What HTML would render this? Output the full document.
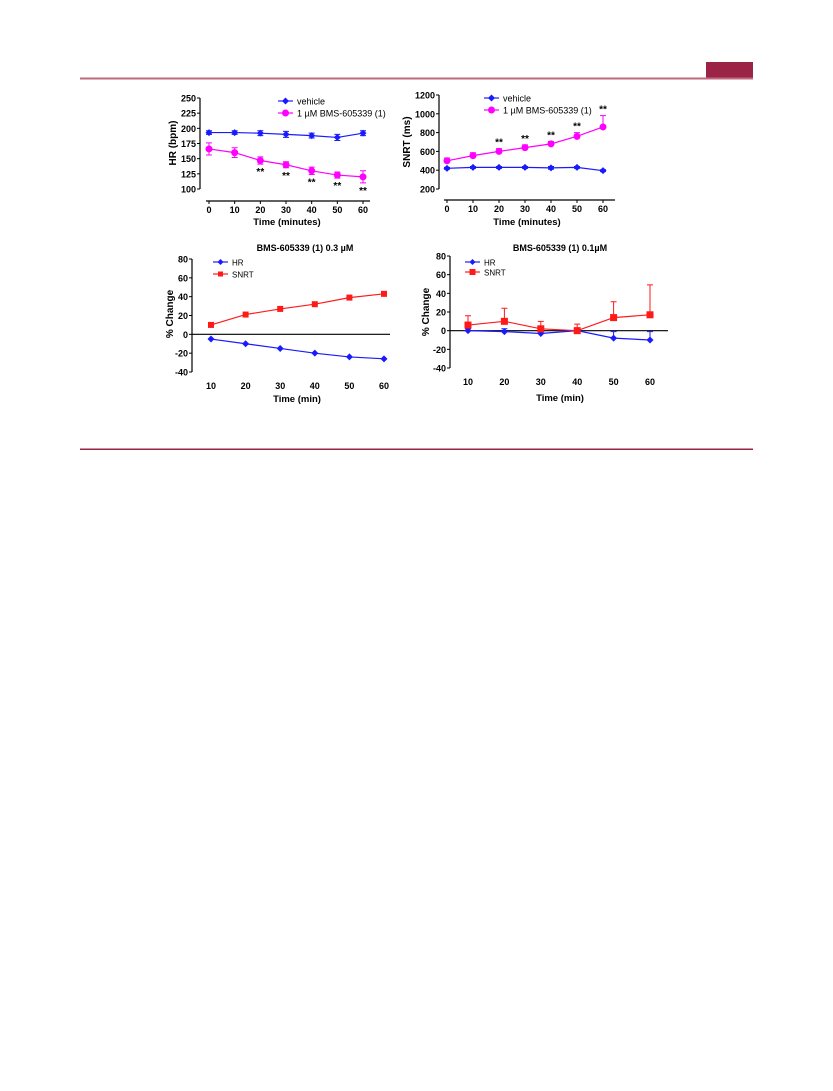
<!DOCTYPE html>
<html><head><meta charset="utf-8"><style>
body{margin:0;background:#fff;width:833px;height:1091px;overflow:hidden}
svg{position:absolute;left:0;top:0;font-family:"Liberation Sans",sans-serif}
</style></head><body>
<svg id="s" width="833" height="1091" xmlns="http://www.w3.org/2000/svg">
<rect x="706" y="62" width="47" height="16" fill="#9b2346"/>
<rect x="80" y="77.5" width="673" height="2" fill="#c06a7e"/>
<rect x="80" y="448.5" width="673" height="1.5" fill="#9b2346"/>
<g id="charts"></g>
</svg>
<script>
// Chart A: HR
const timeA=[0,10,20,30,40,50,60];
const hrVehicle=[193,193,192,190,188,185,192];
const hrVehicleErr=[3,3,4,5,4,5,4];
const hrBms=[166,160,147,140,130,123,120];
const hrBmsErr=[10,8,6,5,6,5,10];
const hrTicks=[100,125,150,175,200,225,250];
const hrSig=[false,false,true,true,true,true,true];
// Chart B: SNRT
const snrtVehicle=[420,430,430,430,425,430,395];
const snrtVehicleErr=[10,10,10,10,15,10,10];
const snrtBms=[500,555,600,640,680,760,860];
const snrtBmsErr=[30,30,30,30,25,40,120];
const snrtTicks=[200,400,600,800,1000,1200];
const snrtSig=[false,false,true,true,true,true,true];
// Chart C: 0.3 uM
const timeC=[10,20,30,40,50,60];
const pctTicks=[-40,-20,0,20,40,60,80];
const hrC=[-5,-10,-15,-20,-24,-26];
const snrtC=[10,21,27,32,39,43];
// Chart D: 0.1 uM
const hrD=[0,-1,-3,0,-8,-10];
const hrDErr=[2,3,2,3,7,9];
const snrtD=[6,10,2,0,14,17];
const snrtDErr=[10,14,8,7,17,32];

const NS="http://www.w3.org/2000/svg";
const root=document.getElementById('charts');
function el(tag,attrs,parent,txt){const e=document.createElementNS(NS,tag);for(const k in attrs)e.setAttribute(k,attrs[k]);if(txt!==undefined)e.textContent=txt;(parent||root).appendChild(e);return e;}
function lin(d0,d1,r0,r1){return v=>r0+(v-d0)*(r1-r0)/(d1-d0);}

function marker(g,shape,x,y,color,size){
  let m;
  if(shape==='diamond'){m=el('path',{d:`M${x} ${y-size}L${x+size} ${y}L${x} ${y+size}L${x-size} ${y}Z`,fill:color},g);}
  else if(shape==='circle'){m=el('circle',{cx:x,cy:y,r:size,fill:color},g);}
  else {m=el('rect',{x:x-size,y:y-size,width:2*size,height:2*size,fill:color},g);}
  
  
}

function series(g,xs,ys,errs,X,Y,color,shape,size,name,errDir){
  const pts=xs.map((t,i)=>X(t)+','+Y(ys[i])).join(' ');
  const pl=el('polyline',{points:pts,fill:'none',stroke:color,'stroke-width':1.2},g);
  
  
  if(errs){xs.forEach((t,i)=>{
    const x=X(t),y=Y(ys[i]);
    const dirs=errDir==='up'?[1]:errDir==='down'?[-1]:[1,-1];
    dirs.forEach(d=>{const ye=Y(ys[i]+d*errs[i]);
      const e=el('path',{d:`M${x} ${y}V${ye}M${x-3} ${ye}H${x+3}`,stroke:color,'stroke-width':1,fill:'none'},g);
      
      });
  });}
  xs.forEach((t,i)=>marker(g,shape,X(t),Y(ys[i]),color,size));
}

function yAxis(g,ticks,Y,ax,fs){
  const a=el('line',{x1:ax,x2:ax,y1:Y(ticks[ticks.length-1]),y2:Y(ticks[0]),stroke:'#000','stroke-width':1.2},g);
  
  ticks.forEach(v=>{el('line',{x1:ax-3,x2:ax,y1:Y(v),y2:Y(v),stroke:'#000'},g);
    const t=el('text',{x:ax-4,y:Y(v)+3.5,'text-anchor':'end','font-size':fs,'font-weight':'bold'},g,String(v));
    });
}
function xLabels(g,xs,X,y,fs){xs.forEach(v=>{const t=el('text',{x:X(v),y:y,'text-anchor':'middle','font-size':fs,'font-weight':'bold'},g,String(v));
  });}
function text(g,x,y,s,attrs,name){const t=el('text',Object.assign({x:x,y:y,'font-size':9},attrs||{}),g,s);return t;}
function legend(g,x,y,color,shape,size,label,fs,name){
  const l=el('g',{},g);
  el('line',{x1:x,x2:x+15,y1:y,y2:y,stroke:color,'stroke-width':1.2},l);marker(l,shape,x+7.5,y,color,size);
  text(l,x+19,y+3.5,label,{'font-size':fs},'legend-label');
}
function stars(g,xs,ys,errs,sig,X,Y,below){xs.forEach((t,i)=>{if(!sig[i])return;
  const y=below?Y(ys[i]-errs[i])+11:Y(ys[i]+errs[i])-3;text(g,X(t),y,'**',{'text-anchor':'middle','font-size':10,'font-weight':'bold'},'significance-mark');});}

// Chart A
(function(){const g=el('g',{});
 const X=lin(0,60,209,363),Y=lin(100,250,189,98);
 yAxis(g,hrTicks,Y,200,9);
 el('line',{x1:206,x2:370,y1:201,y2:201,stroke:'#000','stroke-width':1.2},g);
 timeA.forEach(t=>el('line',{x1:X(t),x2:X(t),y1:201,y2:204,stroke:'#000'},g));
 xLabels(g,timeA,X,213,9);
 text(g,287,225,'Time (minutes)',{'text-anchor':'middle','font-size':9.5,'font-weight':'bold'},'x-axis-title');
 text(g,176,143,'HR (bpm)',{'text-anchor':'middle','font-size':10,'font-weight':'bold',transform:'rotate(-90 176 143)'},'y-axis-title');
 series(g,timeA,hrVehicle,hrVehicleErr,X,Y,'#1a1aff','diamond',3.5,'vehicle','both');
 series(g,timeA,hrBms,hrBmsErr,X,Y,'#ff00ff','circle',3.5,'bms','both');
 stars(g,timeA,hrBms,hrBmsErr,hrSig,X,Y,true);
 legend(g,278,101,'#1a1aff','diamond',3.5,'vehicle',9,'legend-vehicle');
 legend(g,278,113,'#ff00ff','circle',3.5,'1 \u00b5M BMS-605339 (1)',9,'legend-bms');})();

// Chart B
(function(){const g=el('g',{});
 const X=lin(0,60,447,603),Y=lin(200,1200,189,95);
 yAxis(g,snrtTicks,Y,439,9);
 el('line',{x1:444,x2:615,y1:200,y2:200,stroke:'#000','stroke-width':1.2},g);
 timeA.forEach(t=>el('line',{x1:X(t),x2:X(t),y1:200,y2:203,stroke:'#000'},g));
 xLabels(g,timeA,X,212,9);
 text(g,527,225,'Time (minutes)',{'text-anchor':'middle','font-size':9.5,'font-weight':'bold'},'x-axis-title');
 text(g,410,142,'SNRT (ms)',{'text-anchor':'middle','font-size':10,'font-weight':'bold',transform:'rotate(-90 410 142)'},'y-axis-title');
 series(g,timeA,snrtVehicle,snrtVehicleErr,X,Y,'#1a1aff','diamond',3.5,'vehicle','both');
 series(g,timeA,snrtBms,snrtBmsErr,X,Y,'#ff00ff','circle',3.5,'bms','up');
 stars(g,timeA,snrtBms,snrtBmsErr,snrtSig,X,Y,false);
 legend(g,484,98,'#1a1aff','diamond',3.5,'vehicle',9,'legend-vehicle');
 legend(g,484,110,'#ff00ff','circle',3.5,'1 \u00b5M BMS-605339 (1)',9,'legend-bms');})();

// Chart C
(function(){const g=el('g',{});
 const X=lin(10,60,211,384),Y=lin(-40,80,372,259);
 text(g,305,251,'BMS-605339 (1) 0.3 \u00b5M',{'text-anchor':'middle','font-size':9,'font-weight':'bold'},'chart-title');
 yAxis(g,pctTicks,Y,192,9);
 el('line',{x1:192,x2:390,y1:Y(0),y2:Y(0),stroke:'#000','stroke-width':1.2},g);
 xLabels(g,timeC,X,389,9);
 text(g,297,402,'Time (min)',{'text-anchor':'middle','font-size':9.5,'font-weight':'bold'},'x-axis-title');
 text(g,173,314,'% Change',{'text-anchor':'middle','font-size':10,'font-weight':'bold',transform:'rotate(-90 173 314)'},'y-axis-title');
 series(g,timeC,hrC,null,X,Y,'#1a1aff','diamond',3.5,'hr');
 series(g,timeC,snrtC,null,X,Y,'#ff1a1a','square',3,'snrt');
 legend(g,213,262,'#1a1aff','diamond',3,'HR',8,'legend-hr');
 legend(g,213,274,'#ff1a1a','square',2.5,'SNRT',8,'legend-snrt');})();

// Chart D
(function(){const g=el('g',{});
 const X=lin(10,60,468,650),Y=lin(-40,80,368,256);
 text(g,560,251,'BMS-605339 (1) 0.1\u00b5M',{'text-anchor':'middle','font-size':9,'font-weight':'bold'},'chart-title');
 yAxis(g,pctTicks,Y,450,9);
 el('line',{x1:450,x2:668,y1:Y(0),y2:Y(0),stroke:'#000','stroke-width':1.2},g);
 xLabels(g,timeC,X,385,9);
 text(g,560,401,'Time (min)',{'text-anchor':'middle','font-size':9.5,'font-weight':'bold'},'x-axis-title');
 text(g,429,312,'% Change',{'text-anchor':'middle','font-size':10,'font-weight':'bold',transform:'rotate(-90 429 312)'},'y-axis-title');
 series(g,timeC,hrD,hrDErr,X,Y,'#1a1aff','diamond',3.5,'hr','up');
 series(g,timeC,snrtD,snrtDErr,X,Y,'#ff1a1a','square',3.5,'snrt','up');
 legend(g,465,262,'#1a1aff','diamond',3,'HR',8,'legend-hr');
 legend(g,465,272,'#ff1a1a','square',3,'SNRT',8,'legend-snrt');})();
</script>
</body></html>
